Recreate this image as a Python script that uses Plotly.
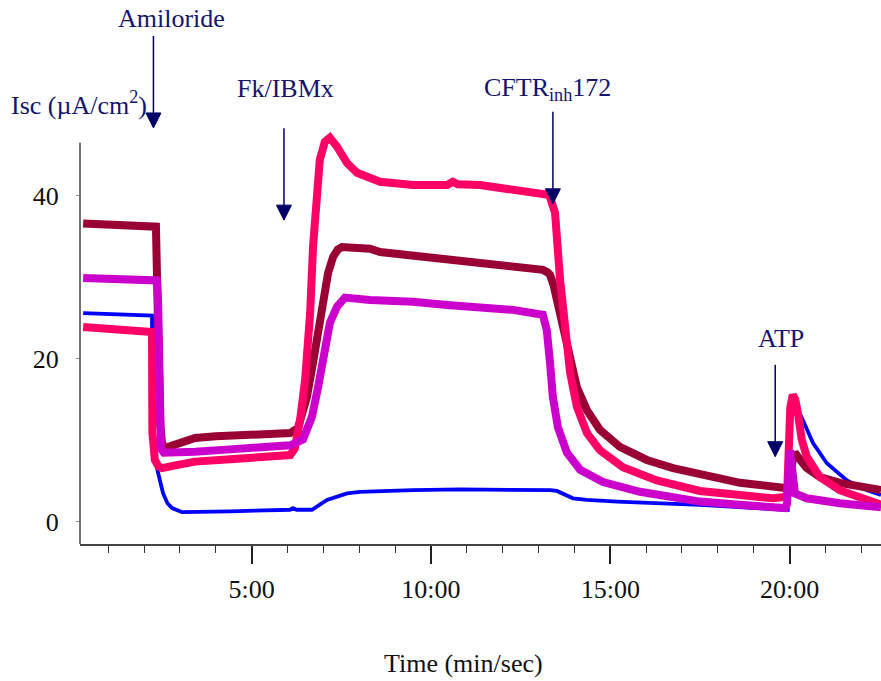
import plotly.graph_objects as go

# ---- data (time in minutes, Isc in uA/cm2) ----
maroon_t = [0.3, 1.0, 1.6, 2.2, 2.33, 2.36, 2.40, 2.45, 2.5, 2.6, 2.67, 3.0, 3.42, 4.0, 4.8, 5.5,
            6.07, 6.29, 6.54, 6.71, 6.85, 6.99, 7.13, 7.27, 7.40, 7.52, 7.82, 8.3, 8.58, 9.5,
            10.45, 11.37, 12.29, 13.12, 13.25, 13.32, 13.42, 13.51, 13.68, 13.88, 14.07, 14.35,
            14.71, 15.27, 16.02, 16.75, 17.5, 18.62, 19.82, 20.0, 20.08, 20.15, 20.30, 20.48,
            20.85, 21.40, 22.55]
maroon_v = [36.6, 36.5, 36.4, 36.3, 36.2, 30.0, 20.0, 12.0, 9.6, 9.0, 9.2, 9.7, 10.3, 10.5, 10.6, 10.7,
            10.9, 11.5, 15.3, 19.5, 23.5, 27.6, 30.5, 32.5, 33.4, 33.7, 33.7, 33.5, 33.1, 32.7,
            32.1, 31.8, 31.3, 30.9, 30.6, 30.3, 29.0, 27.2, 23.5, 19.9, 16.5, 13.7,
            11.3, 9.2, 7.6, 6.6, 5.8, 4.8, 4.2, 4.2, 7.5, 8.5, 7.6, 6.6,
            5.5, 4.8, 3.9]

pink_t = [0.3, 1.2, 2.16, 2.22, 2.23, 2.26, 2.30, 2.40, 2.50, 2.94, 3.42, 4.4, 5.2, 6.07, 6.20,
          6.35, 6.49, 6.63, 6.71, 6.82, 6.90, 7.04, 7.18, 7.38, 7.66, 7.94, 8.30, 8.58, 9.5,
          10.45, 10.61, 10.75, 11.37, 12.29, 13.26, 13.32, 13.46, 13.60, 13.74, 13.88, 14.07,
          14.35, 14.71, 15.35, 16.30, 17.5, 18.62, 19.54, 19.93, 19.97, 20.02, 20.09, 20.16,
          20.23, 20.34, 20.48, 20.85, 21.40, 21.96, 22.55]
pink_v = [23.9, 23.6, 23.4, 23.3, 11.0, 9.0, 7.6, 6.8, 6.6, 7.0, 7.4, 7.7, 8.0, 8.2, 9.0,
          12.5, 17.4, 25.6, 33.7, 40.7, 44.4, 46.6, 47.1, 46.0, 44.0, 42.8, 42.2, 41.7, 41.3,
          41.3, 41.7, 41.4, 41.3, 40.7, 40.1, 39.8, 37.9, 29.7, 23.5, 18.3, 14.1,
          10.9, 8.8, 6.7, 5.1, 3.8, 3.3, 2.9, 3.1, 8.0, 14.0, 15.6, 15.0,
          13.4, 10.1, 8.0, 5.5, 3.9, 2.9, 2.1]

magenta_t = [0.3, 1.2, 2.3, 2.36, 2.39, 2.42, 2.47, 2.55, 2.7, 3.42, 4.4, 5.3, 6.07, 6.43, 6.68,
             6.85, 7.04, 7.18, 7.38, 7.60, 8.3, 8.58, 9.5, 10.45, 11.37, 12.29, 13.12, 13.23,
             13.32, 13.40, 13.54, 13.79, 14.16, 14.80, 15.83, 17.5, 18.62, 19.87, 19.93, 20.01,
             20.06, 20.15, 20.48, 21.40, 22.55]
magenta_v = [29.9, 29.8, 29.7, 29.6, 27.0, 12.0, 9.0, 8.5, 8.5, 8.6, 8.9, 9.2, 9.4, 10.1, 12.9,
             16.5, 21.4, 24.4, 26.4, 27.5, 27.2, 27.2, 27.0, 26.6, 26.4, 26.0, 25.4, 23.5,
             19.5, 15.3, 11.6, 8.5, 6.4, 4.9, 3.7, 2.5, 2.1, 1.7, 2.2, 8.8,
             7.0, 3.5, 2.9, 2.3, 1.8]

blue_t = [0.3, 1.2, 2.2, 2.22, 2.23, 2.25, 2.30, 2.39, 2.53, 2.65, 2.78, 3.06, 4.4, 5.5, 6.07,
          6.15, 6.25, 6.68, 7.10, 7.66, 8.02, 9.5, 10.81, 13.32, 13.51, 13.96, 14.35, 15.19,
          17.5, 19.87, 19.95, 20.0, 20.07, 20.12, 20.25, 20.37, 20.65, 21.04, 21.60, 22.16, 22.55]
blue_v = [25.6, 25.5, 25.4, 25.3, 15.0, 10.0, 8.0, 6.0, 3.5, 2.3, 1.7, 1.2, 1.3, 1.4, 1.5,
          1.7, 1.5, 1.5, 2.7, 3.5, 3.7, 3.9, 4.0, 3.9, 3.8, 2.9, 2.7, 2.5,
          2.1, 1.5, 1.5, 8.0, 14.5, 15.2, 13.6, 12.5, 9.7, 7.2, 5.1, 3.9, 3.3]

x_tick_vals = [5, 10, 15, 20]
x_tick_text = ["5:00", "10:00", "15:00", "20:00"]
y_tick_vals = [0, 20, 40]

# treatment arrows: time and Isc value where each arrow tip sits
events_t = [2.26, 5.90, 13.40, 19.60]
events_v = [48.3, 37.0, 39.0, 8.0]

X_RANGE = [0.212, 22.55]
Y_RANGE = [-2.7, 50.5]

FONT = "Liberation Serif, Times New Roman, serif"
NAVY = "#000066"
TXT = "#14146e"

# plot area in pixels (for placing free labels)
L, R, T, B, W, H = 80, 0, 110, 137, 881, 681
PW, PH = W - L - R, H - T - B


def px2paper(px, py):
    return (px - L) / PW, (H - B - py) / PH


def data2paper(t, v):
    return ((t - X_RANGE[0]) / (X_RANGE[1] - X_RANGE[0]),
            (v - Y_RANGE[0]) / (Y_RANGE[1] - Y_RANGE[0]))


fig = go.Figure()
fig.add_trace(go.Scatter(x=blue_t, y=blue_v, mode="lines",
                         line=dict(color="#0000ff", width=3.8), showlegend=False))
fig.add_trace(go.Scatter(x=maroon_t, y=maroon_v, mode="lines",
                         line=dict(color="#990033", width=8), showlegend=False))
fig.add_trace(go.Scatter(x=pink_t, y=pink_v, mode="lines",
                         line=dict(color="#ff0066", width=8), showlegend=False))
fig.add_trace(go.Scatter(x=magenta_t, y=magenta_v, mode="lines",
                         line=dict(color="#cc00cc", width=8), showlegend=False))

fig.update_layout(
    width=W, height=H,
    margin=dict(l=L, r=R, t=T, b=B),
    paper_bgcolor="white", plot_bgcolor="white",
    font=dict(family=FONT, size=26, color="#111111"),
    xaxis=dict(range=X_RANGE, showgrid=False, zeroline=False,
               showline=True, linecolor="#444444", linewidth=1.5,
               tickmode="array", tickvals=x_tick_vals, ticktext=x_tick_text,
               ticks="outside", ticklen=18, tickwidth=1.5, tickcolor="#222222",
               ticklabelstandoff=3,
               minor=dict(tickmode="linear", tick0=0, dtick=1, ticks="outside",
                          ticklen=7, tickwidth=1.2, tickcolor="#333333"),
               tickfont=dict(family=FONT, size=26, color="#111111")),
    yaxis=dict(range=Y_RANGE, showgrid=False, zeroline=False, showline=False,
               tickmode="array", tickvals=y_tick_vals,
               ticks="outside", ticklen=3, tickwidth=1.2, tickcolor="#888888",
               ticklabelstandoff=12,
               tickfont=dict(family=FONT, size=26, color="#111111")),
)

# y axis line (ends below the top of the plotting area, like the reference)
fig.add_shape(type="line", xref="paper", yref="y", x0=0, x1=0, y0=Y_RANGE[0], y1=46.5,
              line=dict(color="#444444", width=1.5))

# arrows drawn as shapes anchored at the event point (pixel-sized, paper refs so not clipped)
for et, ev in zip(events_t, events_v):
    xa, ya = data2paper(et, ev)
    fig.add_shape(type="line", xref="paper", yref="paper", xsizemode="pixel", ysizemode="pixel",
                  xanchor=xa, yanchor=ya, x0=0, x1=0, y0=12, y1=92,
                  line=dict(color=NAVY, width=1.5))
    fig.add_shape(type="path", xref="paper", yref="paper", xsizemode="pixel", ysizemode="pixel",
                  xanchor=xa, yanchor=ya, path="M-7.5,15 L7.5,15 L0,0 Z",
                  fillcolor=NAVY, line=dict(color=NAVY, width=1))

labels = [
    ("Amiloride", 171, 19),
    ("Isc (µA/cm<sup>2</sup>)", 79, 104),
    ("Fk/IBMx", 285, 88),
    ("CFTR<sub>inh</sub>172", 547, 89),
    ("ATP", 781, 338),
]
for txt, px, py in labels:
    xp, yp = px2paper(px, py)
    fig.add_annotation(x=xp, y=yp, xref="paper", yref="paper",
                       text=txt, showarrow=False, xanchor="center", yanchor="middle",
                       font=dict(family=FONT, size=26, color=TXT))

xp, yp = px2paper(463, 663)
fig.add_annotation(x=xp, y=yp, xref="paper", yref="paper", text="Time (min/sec)",
                   showarrow=False, xanchor="center", yanchor="middle",
                   font=dict(family=FONT, size=26, color="#111111"))

fig.write_html("out.html")
